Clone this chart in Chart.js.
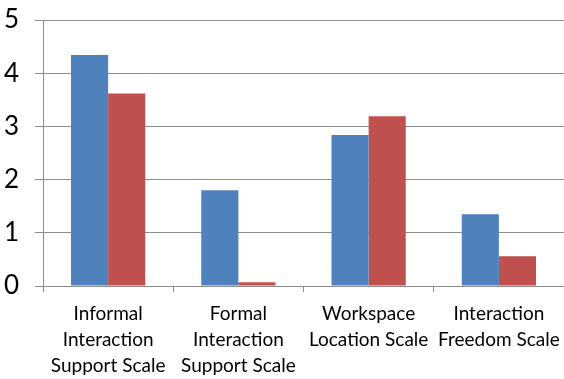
<!DOCTYPE html>
<html>
<head>
<meta charset="utf-8">
<script src="https://cdn.jsdelivr.net/npm/chart.js@4/dist/chart.umd.min.js"></script>
<style>
  body { margin: 0; background: #fff; }
  #scaleChart { display: block; }
</style>
</head>
<body>
<canvas id="scaleChart" width="564" height="379"></canvas>
<script>
var scaleLabels = [
      ['Informal', 'Interaction', 'Support Scale'],
      ['Formal', 'Interaction', 'Support Scale'],
      ['Workspace', 'Location Scale'],
      ['Interaction', 'Freedom Scale']
];
var seriesA = [4.34, 1.80, 2.84, 1.35];
var seriesB = [3.62, 0.07, 3.19, 0.56];
var yTicks = [0, 1, 2, 3, 4, 5];

var gridGray = '#8c8c8c';

var ctx = document.getElementById('scaleChart').getContext('2d');
var chart = new Chart(ctx, {
      type: 'bar',
      data: {
            labels: scaleLabels,
            datasets: [{
                  data: seriesA,
                  backgroundColor: '#4f81bd',
                  categoryPercentage: 0.57,
                  barPercentage: 1
            }, {
                  data: seriesB,
                  backgroundColor: '#c0504d',
                  categoryPercentage: 0.57,
                  barPercentage: 1
            }]
      },
      options: {
            responsive: false,
            animation: false,
            layout: { padding: { top: 20, right: 0, left: 0, bottom: 0 } },
            plugins: { legend: { display: false }, tooltip: { enabled: false } },
            scales: {
                  x: {
                        grid: { drawOnChartArea: false, tickLength: 6, color: gridGray, lineWidth: 1, offset: true },
                        border: { color: gridGray, width: 1 },
                        ticks: {
                              autoSkip: false, maxRotation: 0, minRotation: 0,
                              color: '#000', padding: 9,
                              font: { family: 'Lato', size: 19, lineHeight: 1.37 }
                        },
                        afterFit: function(scale){
                              scale.height = 93;
                              scale.paddingLeft = 0;
                              scale.paddingRight = 0;
                        }
                  },
                  y: {
                        min: 0, max: 5,
                        afterBuildTicks: function(scale){
                              scale.ticks = yTicks.map(function(v){ return { value: v }; });
                        },
                        grid: { color: gridGray, lineWidth: 1, tickLength: 8 },
                        border: { color: gridGray, width: 1 },
                        ticks: {
                              color: '#000', padding: 16,
                              font: { family: 'Lato', size: 26 }
                        },
                        afterFit: function(scale){
                              scale.width = 43;
                              scale.paddingTop = 0;
                              scale.paddingBottom = 0;
                        }
                  }
            }
      }
});
</script>
</body>
</html>
